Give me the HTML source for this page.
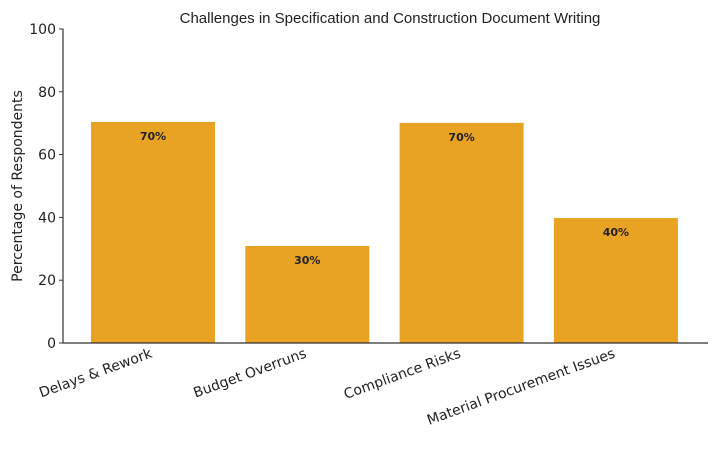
<!DOCTYPE html>
<html><head><meta charset="utf-8"><style>
body{margin:0;background:#fff;width:716px;height:444px;overflow:hidden}
svg text{font-family:"DejaVu Sans","Liberation Sans",sans-serif;fill:#222}
</style></head><body>
<svg id="chart" width="716" height="444" xmlns="http://www.w3.org/2000/svg">
<text x="390" y="23" text-anchor="middle" style="font-family:'Liberation Sans',sans-serif;font-size:15px" fill="#111">Challenges in Specification and Construction Document Writing</text>
<text transform="translate(22,186) rotate(-90)" text-anchor="middle" font-size="14">Percentage of Respondents</text>
<g id="bars"></g><g id="yticks"></g><g id="xticks"></g>
<line x1="63" y1="28.5" x2="63" y2="343" stroke="#333" stroke-width="1.2"/>
<line x1="63" y1="343" x2="708" y2="343" stroke="#333" stroke-width="1.2"/>
</svg>
<script>
const categories=["Delays & Rework","Budget Overruns","Compliance Risks","Material Procurement Issues"];
const values=[70.4,30.9,70.1,39.8];
const valueLabels=["70%","30%","70%","40%"];
const yTicks=[0,20,40,60,80,100];
const NS="http://www.w3.org/2000/svg";
const x0=63,x1=708,yBase=343,yTop=29;
function y(v){return yBase-(v/100)*(yBase-yTop);}
const n=categories.length,step=(x1-x0)/n*0.955,bw=124;
function xc(i){return 153+i*154.3;}
function mk(t,a,p){const e=document.createElementNS(NS,t);for(const k in a)e.setAttribute(k,a[k]);p.appendChild(e);return e;}
const bars=document.getElementById('bars'),yt=document.getElementById('yticks'),xt=document.getElementById('xticks');
values.forEach((v,i)=>{
 const r=mk('rect',{x:xc(i)-bw/2,y:y(v),width:bw,height:yBase-y(v),fill:'#E8A325'},bars);
 
 
 const t=mk('text',{x:xc(i),y:y(v)+18,'text-anchor':'middle','font-size':'11','font-weight':'bold'},bars);
 t.textContent=valueLabels[i];
 
 
 const c=mk('text',{transform:`translate(${xc(i)},${yBase+14}) rotate(-20)`,'text-anchor':'end','font-size':'14'},xt);
 c.textContent=categories[i];
 
 
});
yTicks.forEach(v=>{
 const l=mk('line',{x1:59,x2:63,y1:y(v),y2:y(v),stroke:'#333'},yt);
 
 
 const t=mk('text',{x:56,y:y(v)+5,'text-anchor':'end','font-size':'14'},yt);
 t.textContent=v;
 
 
});
</script>
</body></html>
